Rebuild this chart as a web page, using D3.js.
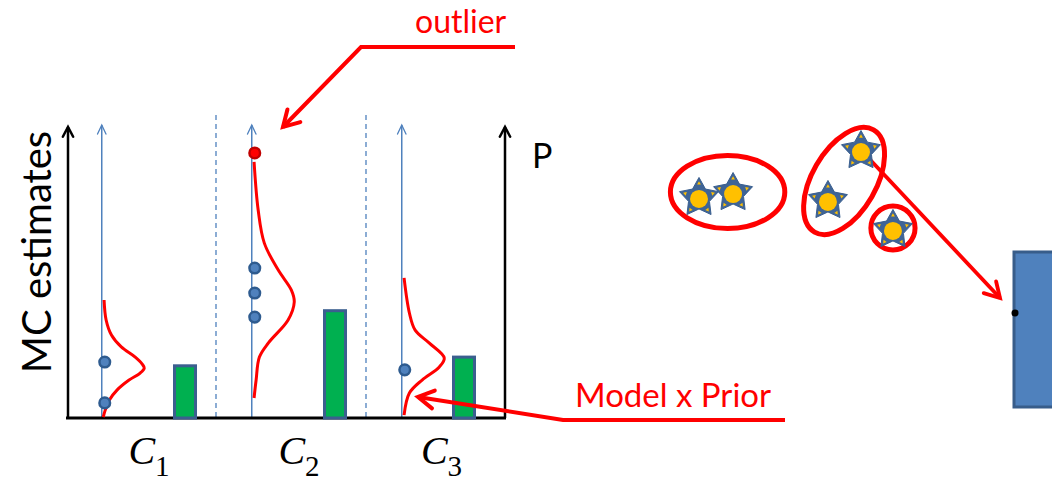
<!DOCTYPE html>
<html>
<head>
<meta charset="utf-8">
<script src="https://cdn.jsdelivr.net/npm/d3@7"></script>
<style>
  body { margin: 0; background: #fff; }
  svg { display: block; }
</style>
</head>
<body>
<div id="chart"></div>
<script>
// categories and the values
var categories = ["C1", "C2", "C3"];
var catSubs = ["1", "2", "3"];
var mcEstimates = [[19.3, 5.2], [51.7, 43.1, 34.8], [16.6]];
var outliers = [[], [91.4], []];
var priorP = [0.18, 0.37, 0.21];

// model x prior curves: [estimate, relative density]
var curveC1 = [[40.7, 0.02], [33.8, 0.07], [28.6, 0.2], [24.5, 0.44], [21.0, 0.78], [18.6, 0.95],
               [17.2, 1.0], [15.5, 0.9], [13.1, 0.63], [9.7, 0.34], [6.2, 0.15], [2.8, 0.05], [0.3, 0.0]];
var curveC2 = [[88.3, 0.02], [71.7, 0.12], [60.3, 0.27], [51.0, 0.61], [44.1, 0.93], [40.0, 1.0],
               [33.8, 0.85], [25.9, 0.37], [21.0, 0.15], [13.1, 0.07], [6.9, 0.02]];
var curveC3 = [[48.3, 0.02], [36.2, 0.15], [30.3, 0.29], [25.9, 0.63], [20.7, 1.0], [17.6, 0.88],
               [13.1, 0.46], [8.6, 0.15], [1.0, 0.02]];
var curves = [curveC1, curveC2, curveC3];

// right panel: stars in a 2d feature space
var starX = [1.5, 2.81, 6.46, 7.73, 8.96];
var starY = [4.08, 4.46, 3.85, 7.69, 1.62];
// clusters: centre x, centre y, radius x, radius y (feature units), tilt
var clusterCx = [2.6, 7.08, 8.96];
var clusterCy = [4.46, 5.31, 1.69];
var clusterRx = [2.2, 2.27, 0.85];
var clusterRy = [2.81, 2.46, 1.69];
var clusterTilt = [0, -60, 0];

var W = 1052, H = 484;
var red = "#ff0000", blue = "#4f81bd";
var sans = "Lato, 'Open Sans', sans-serif";

var svg = d3.select("#chart").append("svg")
    .attr("width", W)
    .attr("height", H);

var y = d3.scaleLinear().domain([0, 100]).range([418, 128]);
var p = d3.scaleLinear().domain([0, 1]).range([418, 128]);
var x = d3.scaleLinear().domain([0, 3]).range([68, 518]);
var dens = d3.scaleLinear().domain([0, 1]).range([0, 41]);
var rightAxisX = 505;

// open arrow head
function chevron(g, tip, from, len, deg, color, w) {
    var dx = from[0] - tip[0], dy = from[1] - tip[1];
    var L = Math.hypot(dx, dy), ux = dx / L, uy = dy / L;
    var a = deg * Math.PI / 180;
    var p1 = [tip[0] + len * (ux * Math.cos(a) - uy * Math.sin(a)), tip[1] + len * (ux * Math.sin(a) + uy * Math.cos(a))];
    var p2 = [tip[0] + len * (ux * Math.cos(-a) - uy * Math.sin(-a)), tip[1] + len * (ux * Math.sin(-a) + uy * Math.cos(-a))];
    g.append("path")
        .attr("d", d3.line()([p1, tip, p2]))
        .attr("fill", "none")
        .attr("stroke", color)
        .attr("stroke-width", w)
        .attr("stroke-linecap", "round")
        .attr("stroke-linejoin", "miter");
}

var plot = svg.append("g");

// dashed separators
[1, 2].forEach(function(i) {
    plot.append("line")
        .attr("x1", x(i) - 2).attr("x2", x(i) - 2)
        .attr("y1", 115).attr("y2", 418)
        .attr("stroke", blue)
        .attr("stroke-width", 1.3)
        .attr("stroke-dasharray", "5,4");
});

// per category thin arrows
categories.forEach(function(c, i) {
    var ax = x(i + 0.225);
    plot.append("line")
        .attr("x1", ax).attr("x2", ax)
        .attr("y1", 418).attr("y2", 125)
        .attr("stroke", blue)
        .attr("stroke-width", 1.5);
    chevron(plot, [ax, 125], [ax, 200], 10, 25, blue, 1.3);
});

// main axes
var yAxis = d3.axisLeft(y).tickValues([]).tickSizeOuter(0);
plot.append("g")
    .attr("transform", "translate(68,0)")
    .call(yAxis)
    .select(".domain")
    .attr("stroke", "black")
    .attr("stroke-width", 2.5)
    .attr("d", "M0," + y(0) + "V127");
chevron(plot, [68, 127], [68, 200], 11, 28, "black", 2.5);

plot.append("line")
    .attr("x1", rightAxisX).attr("x2", rightAxisX)
    .attr("y1", p(0)).attr("y2", 127)
    .attr("stroke", "black").attr("stroke-width", 2.5);
chevron(plot, [rightAxisX, 127], [rightAxisX, 200], 11, 28, "black", 2.5);

plot.append("line")
    .attr("x1", 66).attr("x2", rightAxisX + 1)
    .attr("y1", 418).attr("y2", 418)
    .attr("stroke", "black").attr("stroke-width", 3);

// model x prior curves
var curveLine = d3.line().curve(d3.curveCatmullRom.alpha(0.5));
curves.forEach(function(cv, i) {
    var base = x(i + 0.225) + 1.5;
    plot.append("path")
        .attr("d", curveLine(cv.map(function(d) { return [base + dens(d[1]), y(d[0])]; })))
        .attr("fill", "none")
        .attr("stroke", red)
        .attr("stroke-width", 3);
});

// bars for P
priorP.forEach(function(v, i) {
    var cx = Math.min(x(i + 0.78), rightAxisX - 41);
    plot.append("rect")
        .attr("x", cx - 10.5)
        .attr("y", p(v))
        .attr("width", 21)
        .attr("height", p(0) - p(v))
        .attr("fill", "#00b050")
        .attr("stroke", "#3b5f8f")
        .attr("stroke-width", 3);
});

// MC estimate dots
mcEstimates.forEach(function(vals, i) {
    var ax = x(i + 0.225) + 3;
    vals.forEach(function(v) {
        plot.append("circle")
            .attr("cx", ax).attr("cy", y(v)).attr("r", 5.3)
            .attr("fill", blue)
            .attr("stroke", "#2e5b8f")
            .attr("stroke-width", 2.5);
    });
    outliers[i].forEach(function(v) {
        plot.append("circle")
            .attr("cx", ax).attr("cy", y(v)).attr("r", 5.3)
            .attr("fill", red)
            .attr("stroke", "#c00000")
            .attr("stroke-width", 2.5);
    });
});

// labels
svg.append("text")
    .attr("transform", "translate(51,252) rotate(-90)")
    .attr("text-anchor", "middle")
    .style("font-family", sans)
    .style("font-size", "40px")
    .text("MC estimates");

svg.append("text")
    .attr("x", 532).attr("y", 168)
    .style("font-family", sans)
    .style("font-size", "34px")
    .text("P");

categories.forEach(function(c, i) {
    var lx = Math.min(x(i + 0.5) + 6, (x(2) + rightAxisX) / 2 + 5);
    var t = svg.append("text")
        .attr("x", lx)
        .attr("y", 464)
        .attr("text-anchor", "middle")
        .style("font-family", "'Liberation Serif', serif");
    t.append("tspan")
        .style("font-style", "italic")
        .style("font-size", "40px")
        .text("C");
    t.append("tspan")
        .attr("dy", 12)
        .style("font-size", "29px")
        .text(catSubs[i]);
});

// annotations
var ann = svg.append("g");
ann.append("text")
    .attr("x", 415).attr("y", 33)
    .attr("fill", red)
    .style("font-family", sans)
    .style("font-size", "32px")
    .text("outlier");
ann.append("path")
    .attr("d", d3.line()([[515, 47], [361, 47], [283, 127]]))
    .attr("fill", "none").attr("stroke", red).attr("stroke-width", 4);
chevron(ann, [283, 127], [361, 47], 18, 30, red, 4);

ann.append("text")
    .attr("x", 575).attr("y", 407)
    .attr("fill", red)
    .style("font-family", sans)
    .style("font-size", "33px")
    .text("Model x Prior");
ann.append("path")
    .attr("d", d3.line()([[785, 420], [563, 420], [418, 397]]))
    .attr("fill", "none").attr("stroke", red).attr("stroke-width", 4);
chevron(ann, [418, 397], [563, 420], 18, 30, red, 4);

// right panel
var sx = d3.scaleLinear().domain([0, 10]).range([660, 920]);
var sy = d3.scaleLinear().domain([0, 10]).range([250, 120]);
var right = svg.append("g");

// target box
right.append("rect")
    .attr("x", 1014).attr("y", 252)
    .attr("width", 60).attr("height", 155)
    .attr("fill", blue)
    .attr("stroke", "#385d8a")
    .attr("stroke-width", 3);
right.append("circle")
    .attr("cx", 1015).attr("cy", 313).attr("r", 3.5)
    .attr("fill", "black");

// arrow from the star to the box
var from = [sx(starX[3]), sy(starY[3])], tip = [1000, 298];
right.append("line")
    .attr("x1", from[0]).attr("y1", from[1])
    .attr("x2", tip[0]).attr("y2", tip[1])
    .attr("stroke", red).attr("stroke-width", 3.8);
chevron(right, tip, from, 17, 30, red, 3.8);

// clusters
clusterCx.forEach(function(c, i) {
    var cx = sx(c), cy = sy(clusterCy[i]);
    right.append("ellipse")
        .attr("rx", sx(clusterRx[i]) - sx(0))
        .attr("ry", sy(0) - sy(clusterRy[i]))
        .attr("transform", "translate(" + cx + "," + cy + ") rotate(" + clusterTilt[i] + ")")
        .attr("fill", "none")
        .attr("stroke", red)
        .attr("stroke-width", 5);
});

function starPath(R, r) {
    var pts = [];
    for (var k = 0; k < 10; k++) {
        var a = -Math.PI / 2 + k * Math.PI / 5;
        var rad = k % 2 === 0 ? R : r;
        pts.push([rad * Math.cos(a), rad * Math.sin(a)]);
    }
    return d3.line()(pts) + "Z";
}

starX.forEach(function(sxv, i) {
    var g = right.append("g")
        .attr("transform", "translate(" + sx(sxv) + "," + (sy(starY[i]) + 1) + ")");
    g.append("path")
        .attr("d", starPath(20.5, 11))
        .attr("fill", "#3f6496")
        .attr("stroke", "#3a5f8f")
        .attr("stroke-width", 1);
    g.append("circle")
        .attr("r", 9)
        .attr("cy", 1)
        .attr("fill", "#ffc000");
    for (var k = 0; k < 5; k++) {
        var a = -Math.PI / 2 + k * 2 * Math.PI / 5;
        var cxk = 14.5 * Math.cos(a), cyk = 14.5 * Math.sin(a);
        var tri = [0, 1, 2].map(function(j) {
            var b = a + j * 2 * Math.PI / 3;
            return [cxk + 2.2 * Math.cos(b), cyk + 2.2 * Math.sin(b)];
        });
        g.append("path")
            .attr("d", d3.line()(tri) + "Z")
            .attr("fill", "#ffc000");
    }
});
</script>
</body>
</html>
